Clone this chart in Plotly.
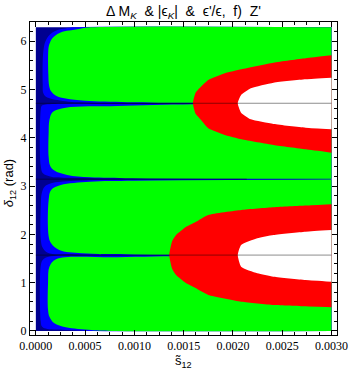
import plotly.graph_objects as go

# region boundaries (x = s12 tilde, y = delta12 in rad)
X_MAX = 0.003
Y_MAX = 6.2832

GREEN_A_X = [0.003, 0.000554, 0.00045, 0.00036, 0.00027, 0.000205, 0.000165, 0.00014, 0.000128,
             0.000127, 0.000135, 0.000155, 0.000205, 0.000304, 0.0005, 0.00093, 0.0016, 0.003]
GREEN_A_Y = [6.2832, 6.2832, 6.255, 6.225, 6.193, 6.125, 6.05, 5.95, 5.85,
             5.3, 5.07, 4.96, 4.87, 4.81, 4.765, 4.735, 4.722, 4.72]

GREEN_B_X = [0.003, 0.0016, 0.00083, 0.000303, 0.000171, 0.000138, 0.00013, 0.00013, 0.000145, 0.000188,
             0.000319, 0.000551, 0.000979, 0.003]
GREEN_B_Y = [4.705, 4.69, 4.655, 4.62, 4.53, 4.366, 4.1, 3.6, 3.42, 3.32,
             3.228, 3.18, 3.159, 3.15]

GREEN_C_X = [0.003, 0.001, 0.000551, 0.000254, 0.000155, 0.00013, 0.00013, 0.000155, 0.000237, 0.000468,
             0.001, 0.003]
GREEN_C_Y = [3.133, 3.11, 3.089, 3.021, 2.917, 2.711, 1.96, 1.815, 1.676, 1.608,
             1.585, 1.58]

GREEN_D_X = [0.003, 0.0016, 0.00083, 0.000205, 0.000138, 0.000124, 0.000124, 0.000138, 0.000188, 0.000303,
             0.000566, 0.00081, 0.003]
GREEN_D_Y = [1.562, 1.55, 1.525, 1.484, 1.33, 1.0, 0.434, 0.296, 0.159, 0.077,
             0.021, 0.0, 0.0]

BLUE_A_X = [0.003, 0.000386, 0.0003, 0.00022, 0.000138, 0.000096, 0.00008, 0.00007, 0.00007, 0.000074,
            0.000099, 0.000138, 0.000336, 0.00093, 0.003]
BLUE_A_Y = [6.2832, 6.2832, 6.26, 6.228, 6.125, 5.986, 5.849, 5.6, 5.1, 4.93,
            4.85, 4.815, 4.746, 4.725, 4.716]

BLUE_B_X = [0.003, 0.0009, 0.0001, 0.00006, 0.00005, 0.00005, 0.000072, 0.000155, 0.000386, 0.000979, 0.003]
BLUE_B_Y = [4.705, 4.695, 4.685, 4.66, 4.58, 3.42, 3.263, 3.193, 3.172, 3.159, 3.152]

BLUE_C_X = [0.003, 0.0004, 0.000155, 0.000089, 0.00006, 0.00005, 0.00005, 0.00007, 0.00012, 0.0004, 0.003]
BLUE_C_Y = [3.135, 3.11, 3.056, 2.986, 2.849, 2.6, 1.9, 1.72, 1.62, 1.59, 1.575]

BLUE_D_X = [0.003, 0.0005, 0.00012, 0.00007, 0.00005, 0.00005, 0.00006, 0.0001, 0.0003, 0.00058, 0.003]
BLUE_D_Y = [1.565, 1.555, 1.53, 1.47, 1.35, 0.2, 0.1, 0.05, 0.02, 0.0, 0.0]

RED_UP_X = [0.003, 0.002738, 0.002412, 0.002086, 0.001918, 0.00175, 0.00167, 0.001621, 0.001594,
            0.001621, 0.00167, 0.00175, 0.001918, 0.002086, 0.002412, 0.002738, 0.003]
RED_UP_Y = [5.704, 5.642, 5.551, 5.415, 5.332, 5.193, 5.043, 4.929, 4.712,
            4.495, 4.381, 4.194, 4.055, 3.966, 3.849, 3.76, 3.69]

WHITE_UP_X = [0.003, 0.002738, 0.002412, 0.002182, 0.002083, 0.002049, 0.002083, 0.002182, 0.002412, 0.002738, 0.003]
WHITE_UP_Y = [5.241, 5.208, 5.138, 5.022, 4.883, 4.712, 4.517, 4.38, 4.283, 4.207, 4.174]

RED_LO_X = [0.003, 0.002738, 0.002412, 0.002086, 0.00175, 0.001621, 0.001522, 0.001423, 0.001384, 0.001354,
            0.001384, 0.001423, 0.001522, 0.001621, 0.00175, 0.002086, 0.002412, 0.002738, 0.003]
RED_LO_Y = [2.622, 2.595, 2.559, 2.503, 2.4, 2.254, 2.15, 1.985, 1.861, 1.571,
            1.281, 1.157, 0.992, 0.888, 0.745, 0.606, 0.538, 0.51, 0.49]

WHITE_LO_X = [0.003, 0.002738, 0.002412, 0.002247, 0.002083, 0.002049, 0.002083, 0.002247, 0.002412, 0.002738, 0.003]
WHITE_LO_Y = [2.09, 2.055, 1.986, 1.918, 1.779, 1.571, 1.33, 1.194, 1.124, 1.055, 1.02]

# thin lines along delta = pi/2, pi, 3pi/2
LINE_Y = [1.5708, 3.1416, 4.7124]
LINE_X_END = [0.003, 0.00214, 0.003]

NAVY = "#000090"
BLUE = "#0000ff"
GREEN = "#00ff00"
RED = "#ff0000"

fig = go.Figure()


def add_region(xs, ys, color, shape="spline", smoothing=1.0):
    fig.add_trace(go.Scatter(x=xs, y=ys, mode="lines", fill="toself", fillcolor=color,
                             line=dict(width=0, color=color, shape=shape, smoothing=smoothing),
                             hoverinfo="skip", showlegend=False))


add_region([0, X_MAX, X_MAX, 0], [0, 0, Y_MAX, Y_MAX], NAVY, shape="linear")
for bx, by in [(BLUE_A_X, BLUE_A_Y), (BLUE_B_X, BLUE_B_Y), (BLUE_C_X, BLUE_C_Y), (BLUE_D_X, BLUE_D_Y)]:
    add_region(bx, by, BLUE)
for gx, gy in [(GREEN_A_X, GREEN_A_Y), (GREEN_B_X, GREEN_B_Y), (GREEN_C_X, GREEN_C_Y), (GREEN_D_X, GREEN_D_Y)]:
    add_region(gx, gy, GREEN)
# red bands and their white cores: gentler smoothing so the noses do not bulge
add_region(RED_UP_X, RED_UP_Y, RED, smoothing=0.5)
add_region(RED_LO_X, RED_LO_Y, RED, smoothing=0.5)
add_region(WHITE_UP_X, WHITE_UP_Y, "white", smoothing=0.5)
add_region(WHITE_LO_X, WHITE_LO_Y, "white", smoothing=0.5)

for ly, lx in zip(LINE_Y, LINE_X_END):
    fig.add_trace(go.Scatter(x=[0, lx], y=[ly, ly], mode="lines",
                             line=dict(width=1, color="rgba(0,0,0,0.45)"), hoverinfo="skip", showlegend=False))

axis_common = dict(
    showgrid=False, zeroline=False, showline=True, linecolor="black", linewidth=1,
    mirror="ticks", ticks="inside", ticklen=5, tickcolor="black", ticklabeloverflow="allow",
    tickfont=dict(family="Liberation Serif", size=12, color="black"),
)

fig.update_xaxes(
    range=[-0.0000593, 0.003056], tick0=0, dtick=0.0005, tickformat=".4f",
    minor=dict(ticks="inside", dtick=0.000125, ticklen=3, tickcolor="black"),
    **axis_common,
)
fig.update_yaxes(
    range=[-0.083, 6.394], tick0=0, dtick=1,
    minor=dict(ticks="inside", dtick=0.2, ticklen=3, tickcolor="black"),
    **axis_common,
)

label_font = dict(family="Liberation Sans", size=13, color="black")
fig.add_annotation(text="s\u0303<sub>12</sub>", xref="paper", yref="paper", x=0.5, y=-0.086,
                   xanchor="center", yanchor="middle", showarrow=False, font=label_font)
fig.add_annotation(text="<i>\u03b4</i><sub>12</sub> (rad)", xref="paper", yref="paper", x=-0.064, y=0.486,
                   xanchor="center", yanchor="middle", textangle=-90, showarrow=False, font=label_font)

fig.update_layout(
    width=360, height=379,
    margin=dict(l=30, r=15, t=22, b=44),
    paper_bgcolor="white", plot_bgcolor="white",
    title=dict(text="\u0394 M<sub><i>K</i></sub>  & |\u03f5<sub><i>K</i></sub>|  &  \u03f5'/\u03f5,  f)  Z'",
               x=0.5, xref="paper", xanchor="center", y=0.97, yanchor="middle",
               font=dict(family="Liberation Sans", size=14, color="black")),
)

# the page's default body margin would push the 360x379 figure off the window
fig.write_html("out.html", config={"displayModeBar": False, "staticPlot": True},
               post_script="document.body.style.margin='0';document.body.style.overflow='hidden';")
